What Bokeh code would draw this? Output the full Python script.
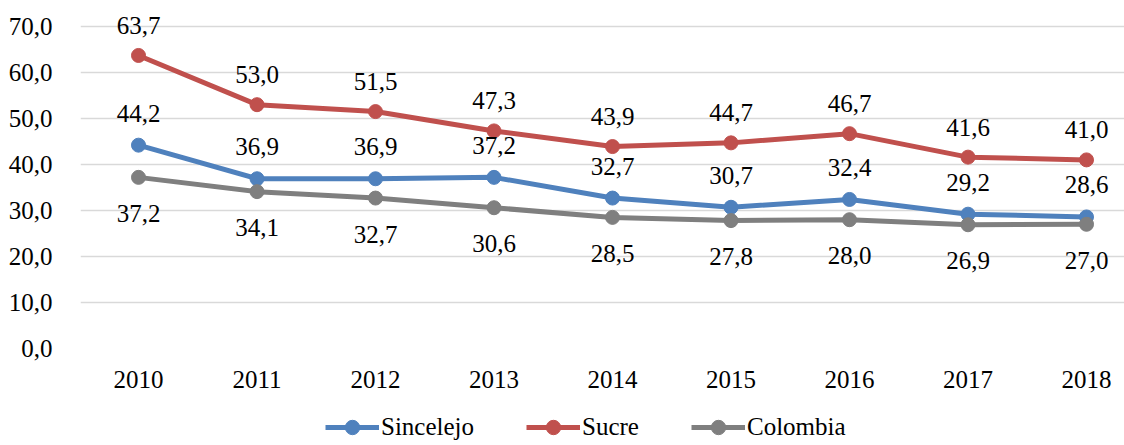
from bokeh.plotting import figure
from bokeh.models import ColumnDataSource, LabelSet, Legend, LegendItem, FixedTicker, Range1d
from bokeh.layouts import column
from bokeh.embed import file_html
from bokeh.resources import INLINE

years = [2010, 2011, 2012, 2013, 2014, 2015, 2016, 2017, 2018]
sincelejo = [44.2, 36.9, 36.9, 37.2, 32.7, 30.7, 32.4, 29.2, 28.6]
sucre = [63.7, 53.0, 51.5, 47.3, 43.9, 44.7, 46.7, 41.6, 41.0]
colombia = [37.2, 34.1, 32.7, 30.6, 28.5, 27.8, 28.0, 26.9, 27.0]
y_ticks = [0, 10, 20, 30, 40, 50, 60, 70]
y_tick_labels = ["0,0", "10,0", "20,0", "30,0", "40,0", "50,0", "60,0", "70,0"]

FONT = "Liberation Serif"
FS = "25px"

p = figure(width=1124, height=400, output_backend="svg", toolbar_location=None,
           x_range=Range1d(2009.5105, 2018.3206), y_range=Range1d(0, 73.91))
p.min_border_left = 80
p.min_border_right = 0
p.min_border_top = 8
p.min_border_bottom = 52
p.outline_line_color = None
p.background_fill_color = "white"

p.xgrid.grid_line_color = None
p.ygrid.grid_line_color = "#d9d9d9"
p.ygrid.grid_line_width = 1.5
p.ygrid.ticker = FixedTicker(ticks=y_ticks)

p.yaxis.ticker = FixedTicker(ticks=y_ticks)
p.yaxis.major_label_overrides = {t: l for t, l in zip(y_ticks, y_tick_labels)}
p.xaxis.ticker = FixedTicker(ticks=years)
p.xaxis.major_label_overrides = {y: str(y) for y in years}
for ax in (p.xaxis, p.yaxis):
    ax.axis_line_color = None
    ax.major_tick_line_color = None
    ax.minor_tick_line_color = None
    ax.major_label_text_font = FONT
    ax.major_label_text_font_size = FS
    ax.major_label_text_color = "black"
p.yaxis.major_label_standoff = 22
p.xaxis.major_label_standoff = 16

series = [
    ("Sincelejo", sincelejo, "#4F81BD", 32),
    ("Sucre", sucre, "#C0504D", 30),
    ("Colombia", colombia, "#7F7F7F", -36),
]

# legend strip below the chart; its ranges keep the shared data out of view
lf = figure(width=1124, height=45, output_backend="svg", toolbar_location=None,
            x_axis_location=None, y_axis_location=None,
            x_range=Range1d(0, 1), y_range=Range1d(0, 1))
lf.min_border_left = 80
lf.min_border_right = 0
lf.min_border_top = 0
lf.min_border_bottom = 0
lf.outline_line_color = None
lf.grid.visible = False

items = []
for name, vals, color, off in series:
    src = ColumnDataSource(dict(x=years, y=vals, t=[f"{v:.1f}".replace(".", ",") for v in vals]))
    p.line("x", "y", source=src, line_color=color, line_width=5)
    p.scatter("x", "y", source=src, size=14, fill_color=color, line_color=color)
    labels = LabelSet(x="x", y="y", text="t", source=src, y_offset=off,
                      text_align="center", text_baseline="middle",
                      text_font=FONT, text_font_size=FS, text_color="black")
    p.add_layout(labels)
    l1 = lf.line("x", "y", source=src, line_color=color, line_width=5)
    l2 = lf.scatter("x", "y", source=src, size=14, fill_color=color, line_color=color)
    items.append(LegendItem(label=name, renderers=[l1, l2]))

legend = Legend(items=items, orientation="horizontal", location=(245, 0),
                label_text_font=FONT, label_text_font_size=FS, label_text_color="black",
                glyph_width=54, glyph_height=36, label_standoff=2, spacing=52,
                border_line_color=None, background_fill_alpha=0,
                padding=0, margin=0)
lf.add_layout(legend)

layout = column(p, lf, spacing=0)
open("out.html", "w").write(file_html(layout, INLINE))
